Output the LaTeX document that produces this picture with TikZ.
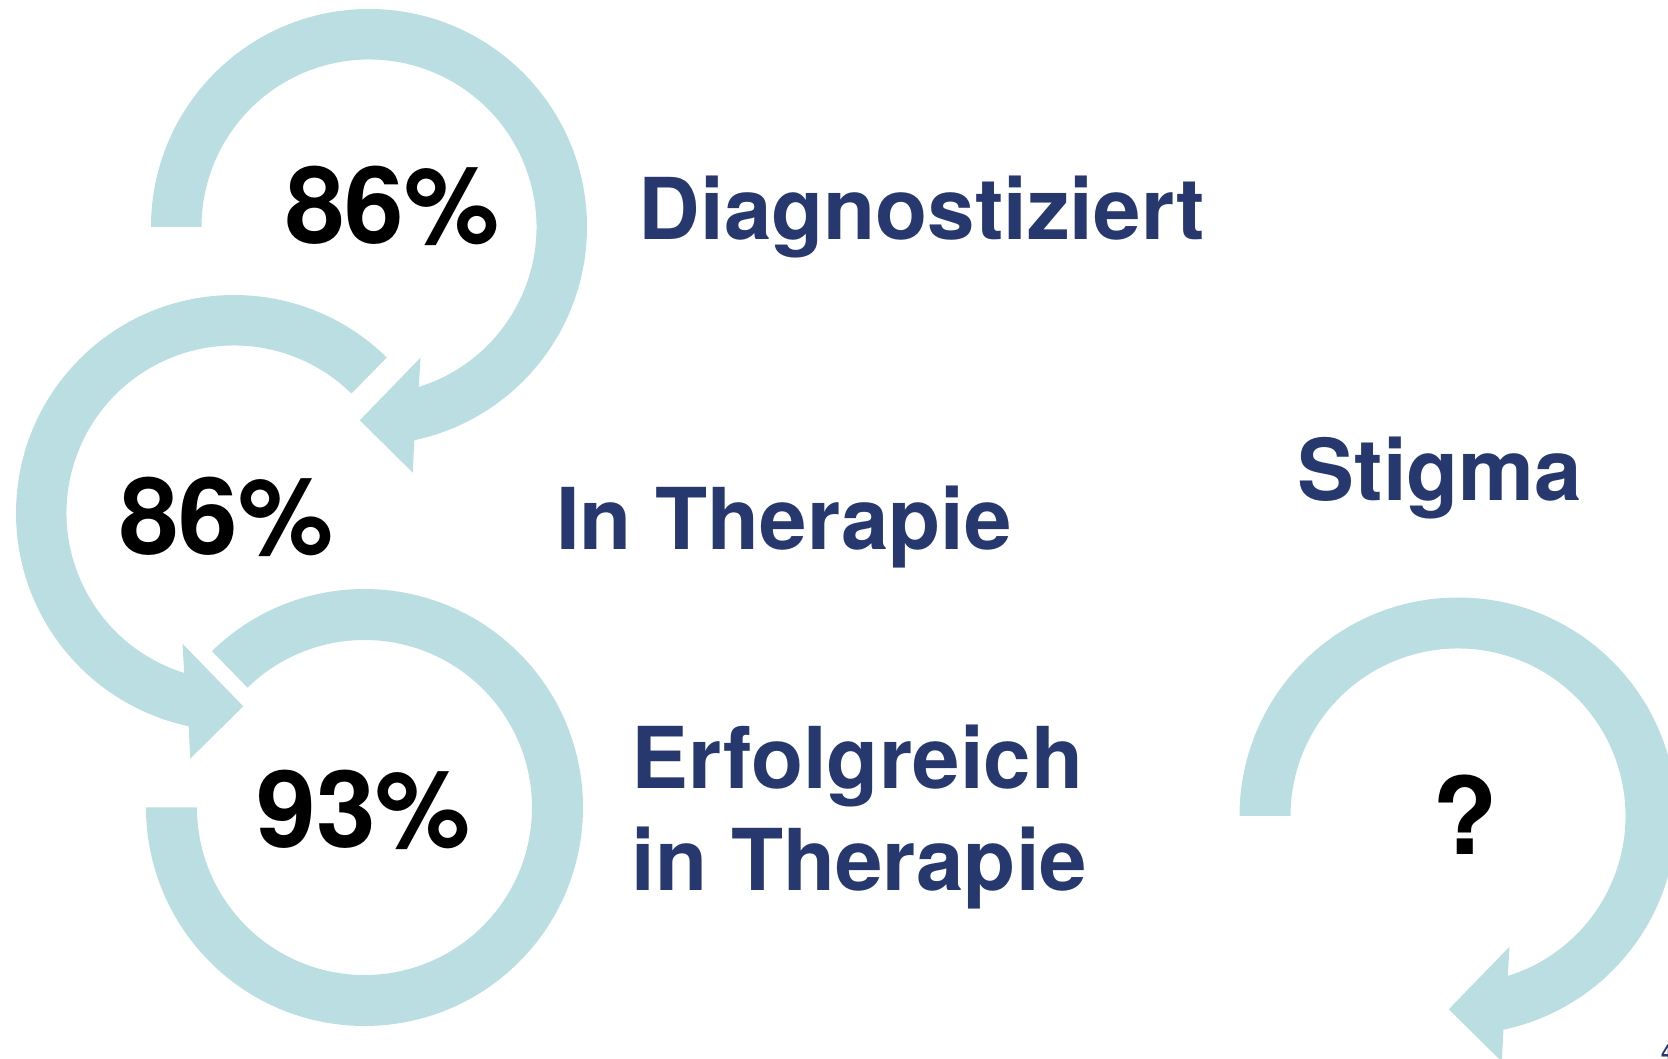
\documentclass[tikz,border=0pt]{standalone}
\usepackage{fontspec}
\setmainfont{TeX Gyre Heros}
\definecolor{arcblue}{RGB}{187,222,227}
\definecolor{navy}{RGB}{39,56,110}
\begin{document}
\begin{tikzpicture}[x=1pt,y=1pt,
  band/.style={fill=arcblue,draw=none},
  pct/.style={font=\fontsize{107}{120}\selectfont\bfseries,text=black,inner sep=0pt,anchor=base},
  lbl/.style={font=\fontsize{85.3}{100}\selectfont\bfseries,text=navy,inner sep=0pt,anchor=base west}]
\useasboundingbox (0,0) rectangle (1668,1058);
\coordinate (c1) at (369,831);
\coordinate (c2) at (234,545);
\coordinate (c3) at (364.5,250.5);
\coordinate (c4) at (1458,242);
% arc 1: clockwise, arrow pointing left at bottom
\fill[band] ([shift={(c1)}]180:218) arc[start angle=180,end angle=-78,radius=218]
  -- ([shift={(c1)}]43.8,-245.7) -- ([shift={(c1)}]-9.2,-193.3) -- ([shift={(c1)}]51.5,-130.7)
  -- ([shift={(c1)}]-72.7:167.5) arc[start angle=-72.7,end angle=180,radius=167.5] -- cycle;
% arc 2: counter-clockwise, arrow pointing right at bottom
\fill[band] ([shift={(c2)}]45.5:218) arc[start angle=45.5,end angle=258,radius=218]
  -- ([shift={(c2)}]-43.8,-245.7) -- ([shift={(c2)}]9.2,-193.3) -- ([shift={(c2)}]-51.5,-130.7)
  -- ([shift={(c2)}]252.7:167.5) arc[start angle=252.7,end angle=45.5,radius=167.5] -- cycle;
% arc 3: clockwise, no arrowhead
\fill[band] ([shift={(c3)}]134.3:218.5) arc[start angle=134.3,end angle=-180,radius=218.5]
  -- ([shift={(c3)}]-180:167.5) arc[start angle=-180,end angle=134.3,radius=167.5] -- cycle;
% arc 4: clockwise, arrow pointing left at bottom
\fill[band] ([shift={(c4)}]180:218.5) arc[start angle=180,end angle=-78,radius=218.5]
  -- ([shift={(c4)}]43.8,-245.7) -- ([shift={(c4)}]-9.2,-193.3) -- ([shift={(c4)}]51.5,-130.7)
  -- ([shift={(c4)}]-72.7:167.5) arc[start angle=-72.7,end angle=180,radius=167.5] -- cycle;
% numbers
\node[pct] (p1) at (392.5,814.7) {86\%};
\node[pct] (p2) at (226.5,503) {86\%};
\node[pct] (p3) at (363.7,210.7) {93\%};
\node[pct] (q4) at (1465,203) {?};
% labels
\node[lbl] (l1) at (638.5,818) {Diagnostiziert};
\node[lbl] (l2) at (556,508) {In Therapie};
\node[lbl] (l3a) at (631.5,269.7) {Erfolgreich};
\node[lbl] (l3b) at (631.5,167.3) {in Therapie};
\node[lbl] (l4) at (1297.5,557.3) {Stigma};
\node[font=\fontsize{22}{24}\selectfont\bfseries,text=navy,inner sep=0pt,anchor=north west] (pg) at (1661,13) {4};
\end{tikzpicture}
\end{document}
